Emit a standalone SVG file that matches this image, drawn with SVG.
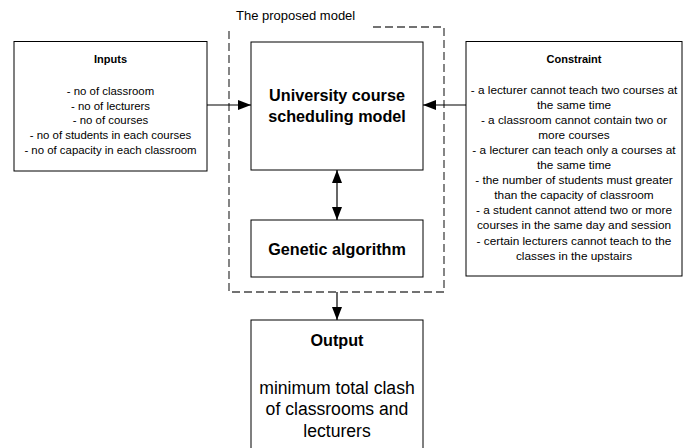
<svg xmlns="http://www.w3.org/2000/svg" width="689" height="448" viewBox="0 0 689 448">
  <style>
    .box { fill: #ffffff; stroke: #000000; stroke-width: 1; }
    .frame { fill: none; stroke: #444444; stroke-width: 1.3; stroke-dasharray: 8 4; }
    .conn { fill: none; stroke: #000000; stroke-width: 1.2; }
    text { font-family: "Liberation Sans", Arial, sans-serif; fill: #000000; text-anchor: middle; }
    .head { font-size: 11px; font-weight: bold; }
    .in { font-size: 11.4px; }
    .con { font-size: 11.8px; }
    .title { font-size: 16.2px; font-weight: bold; }
    .out { font-size: 17.6px; }
    .label { font-size: 13px; text-anchor: start; }
  </style>
  <defs>
    <marker id="arrow" markerUnits="userSpaceOnUse" markerWidth="13" markerHeight="10" refX="13" refY="5" orient="auto">
      <path d="M0,0 L13,5 L0,10 Z" fill="#000000"/>
    </marker>
    <marker id="arrowStart" markerUnits="userSpaceOnUse" markerWidth="13" markerHeight="10" refX="0" refY="5" orient="auto">
      <path d="M13,0 L0,5 L13,10 Z" fill="#000000"/>
    </marker>
  </defs>

  <rect width="689" height="448" fill="#ffffff"/>

  <!-- frame around the proposed model -->
  <g id="proposed-model-frame">
    <path class="frame" d="M373,27 H444 V292 H229 V27"/>
    <text class="label" x="236" y="20">The proposed model</text>
  </g>

  <g id="inputs">
    <rect class="box" x="14" y="41.5" width="193" height="129.5"/>
    <text class="head" x="110.5" y="63">Inputs</text>
    <text class="in" x="110.5" y="94.5">- no of classroom</text>
    <text class="in" x="110.5" y="109.5">- no of lecturers</text>
    <text class="in" x="110.5" y="124.3">- no of courses</text>
    <text class="in" x="110.5" y="139.3">- no of students in each courses</text>
    <text class="in" x="110.5" y="154">- no of capacity in each classroom</text>
  </g>

  <g id="scheduling-model">
    <rect class="box" x="251" y="42" width="172" height="128"/>
    <text class="title" x="337" y="101">University course</text>
    <text class="title" x="337" y="122">scheduling model</text>
  </g>

  <g id="genetic-algorithm">
    <rect class="box" x="251" y="220" width="172" height="57"/>
    <text class="title" x="337" y="255">Genetic algorithm</text>
  </g>

  <g id="constraint">
    <rect class="box" x="466" y="41.5" width="216" height="234.5"/>
    <text class="head" x="574" y="63">Constraint</text>
    <text class="con" x="574" y="93.5">- a lecturer cannot teach two courses at</text>
    <text class="con" x="574" y="108.6">the same time</text>
    <text class="con" x="574" y="123.7">- a classroom cannot contain two or</text>
    <text class="con" x="574" y="138.8">more courses</text>
    <text class="con" x="574" y="153.9">- a lecturer can teach only a courses at</text>
    <text class="con" x="574" y="169">the same time</text>
    <text class="con" x="574" y="184.1">- the number of students must greater</text>
    <text class="con" x="574" y="199.2">than the capacity of classroom</text>
    <text class="con" x="574" y="214.3">- a student cannot attend two or more</text>
    <text class="con" x="574" y="229.4">courses in the same day and session</text>
    <text class="con" x="574" y="244.5">- certain lecturers cannot teach to the</text>
    <text class="con" x="574" y="259.6">classes in the upstairs</text>
  </g>

  <g id="output">
    <rect class="box" x="251" y="320" width="172" height="140"/>
    <text class="title" x="337" y="346">Output</text>
    <text class="out" x="337" y="393.5">minimum total clash</text>
    <text class="out" x="337" y="415">of classrooms and</text>
    <text class="out" x="337" y="436.5">lecturers</text>
  </g>

  <g id="connectors">
    <line class="conn" x1="207" y1="105" x2="251" y2="105" marker-end="url(#arrow)"/>
    <line class="conn" x1="466" y1="105" x2="423" y2="105" marker-end="url(#arrow)"/>
    <line class="conn" x1="337" y1="170" x2="337" y2="220" marker-start="url(#arrowStart)" marker-end="url(#arrow)"/>
    <line class="conn" x1="337" y1="292" x2="337" y2="320" marker-end="url(#arrow)"/>
  </g>
</svg>
